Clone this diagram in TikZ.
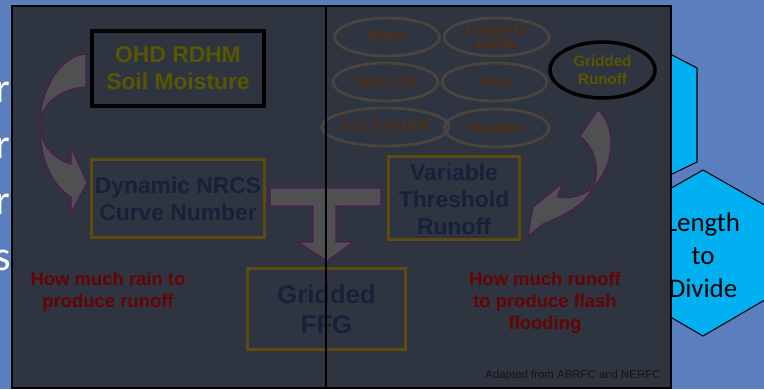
\documentclass[tikz,border=0pt]{standalone}
\usepackage{fontspec}
\setmainfont{Liberation Sans}
\newfontfamily\calibri{Carlito}
\usetikzlibrary{shapes.geometric}
\definecolor{slidebg}{RGB}{91,127,190}
\definecolor{panelbg}{RGB}{46,52,64}
\definecolor{hexfill}{RGB}{0,176,240}
\definecolor{olivetxt}{RGB}{88,86,0}
\definecolor{navytxt}{RGB}{22,34,58}
\definecolor{boxbrown}{RGB}{94,74,14}
\definecolor{ellline}{RGB}{74,68,62}
\definecolor{elltxt}{RGB}{84,48,22}
\definecolor{redtxt}{RGB}{102,4,4}
\definecolor{arrfill}{RGB}{80,80,82}
\definecolor{arrline}{RGB}{80,25,80}
\tikzset{
  lefttxt/.style={text=white, font=\calibri\fontsize{24}{28}\selectfont, inner sep=0pt},
  hexshape/.style={fill=hexfill, draw=black, line width=0.6pt},
  blackbox/.style={draw=black, line width=2.3pt, inner sep=0pt},
  brownbox/.style={draw=boxbrown, line width=1.7pt, inner sep=0pt},
  bigtxt/.style={font=\bfseries\fontsize{13}{15.3}\selectfont, align=center},
  infoell/.style={ellipse, draw=ellline, line width=1.6pt, inner sep=0pt,
     minimum width=2.1cm, minimum height=0.76cm, text=elltxt,
     font=\bfseries\fontsize{7.8}{8}\selectfont, align=center},
  redlabel/.style={text=redtxt, font=\bfseries\fontsize{10.5}{12.5}\selectfont, align=center},
  bluearrow/.style={fill=arrfill, draw=arrline, line width=0.6pt},
}
\begin{document}
\begin{tikzpicture}[x=0.02cm,y=-0.02cm]
\useasboundingbox (0,0) rectangle (764,389);
\clip (0,0) rectangle (764,389);
\fill[slidebg] (0,0) rectangle (764,389);

% letters left of the panel
\node[lefttxt, anchor=base east] (l1) at (11,102) {r};
\node[lefttxt, anchor=base east] (l2) at (11,158) {r};
\node[lefttxt, anchor=base east] (l3) at (11,214) {r};
\node[lefttxt, anchor=base east] (l4) at (11,270) {s};

% hexagons on the right
\draw[hexshape] (620,28) -- (697,68) -- (697,162) -- (620,199) -- cycle;
\draw[hexshape] (703,170) -- (775,211) -- (775,294) -- (703,336) -- (631,294) -- (631,211) -- cycle;
\node[font=\calibri\fontsize{15.3}{18.7}\selectfont, align=center, text=black] (hexlabel) at (703,255) {Length\\to\\Divide};

% dark panel
\draw[fill=panelbg, draw=black, line width=1.2pt] (12,6) rectangle (671,388);

% boxes
\node[blackbox, minimum width=3.44cm, minimum height=1.5cm] (ohd) at (178,68.5) {};
\node[bigtxt, text=olivetxt] (ohdtxt) at (178,68.5) {OHD RDHM\\Soil Moisture};
\node[brownbox, minimum width=3.46cm, minimum height=1.56cm] (dyn) at (178,198.5) {};
\node[bigtxt, text=navytxt] (dyntxt) at (178,198.5) {Dynamic NRCS\\Curve Number};
\node[brownbox, minimum width=2.62cm, minimum height=1.66cm] (var) at (454,198) {};
\node[bigtxt, text=navytxt] (vartxt) at (454,199) {Variable\\Threshold\\Runoff};
\node[brownbox, minimum width=3.16cm, minimum height=1.62cm] (ffg) at (326.5,309) {};

% ellipses
\node[infoell] (slope) at (387,37) {Slope};
\node[infoell] (ltd) at (496.5,37) {Length to\\Divide};
\node[infoell] (scn) at (385.5,82) {Static CN};
\node[infoell] (area) at (494.5,82) {Area};
\node[infoell] (ddf) at (385.5,127) {2-yr, 3-hr DDF};
\node[infoell] (dur) at (496.5,128) {Duration};
\node[ellipse, draw=black, line width=2pt, inner sep=0pt, minimum width=2.1cm, minimum height=1.12cm,
      text=olivetxt, font=\bfseries\fontsize{8.6}{10.2}\selectfont, align=center] (grun) at (602.5,70) {Gridded\\Runoff};

% curved arrow on the left
\draw[bluearrow] (86,54) .. controls (60,56) and (40,90) .. (40,125)
   .. controls (40,145) and (55,160) .. (71,164) -- (71,147) -- (87,183) -- (71,213) -- (71,197)
   .. controls (52,185) and (40,160) .. (40,125)
   .. controls (40,105) and (60,88) .. (86,87) -- cycle;

% curved arrow on the right
\draw[bluearrow] (598,110) .. controls (616,125) and (616,165) .. (593,187)
   .. controls (583,197) and (568,199) .. (557,197) -- (563,183) -- (533,207) -- (528,236) -- (543,224)
   .. controls (565,215) and (585,205) .. (593,187)
   .. controls (600,172) and (597,150) .. (580,136) -- cycle;

% T arrow
\draw[bluearrow] (270,188) -- (381,188) -- (381,206) -- (336,206) -- (336,242) -- (353,242)
   -- (327,261) -- (298,242) -- (313,242) -- (313,206) -- (270,206) -- cycle;

\node[font=\bfseries\fontsize{14.6}{17}\selectfont, align=center, text=navytxt] (ffgtxt) at (326.5,309) {Gridded\\FFG};

% red labels
\node[redlabel] (redl) at (108,292) {How much rain to\\produce runoff};
\node[redlabel] (redr) at (545,303) {How much runoff\\to produce flash\\flooding};

\node[font=\fontsize{6.5}{8}\selectfont, text=black!92] (credit) at (573,376) {Adapted from ABRFC and NERFC};

% divider
\coordinate (dtop) at (326,6);
\coordinate (dbot) at (326,388);
\draw[line width=1.1pt, black] (dtop) -- (dbot);
\end{tikzpicture}
\end{document}
